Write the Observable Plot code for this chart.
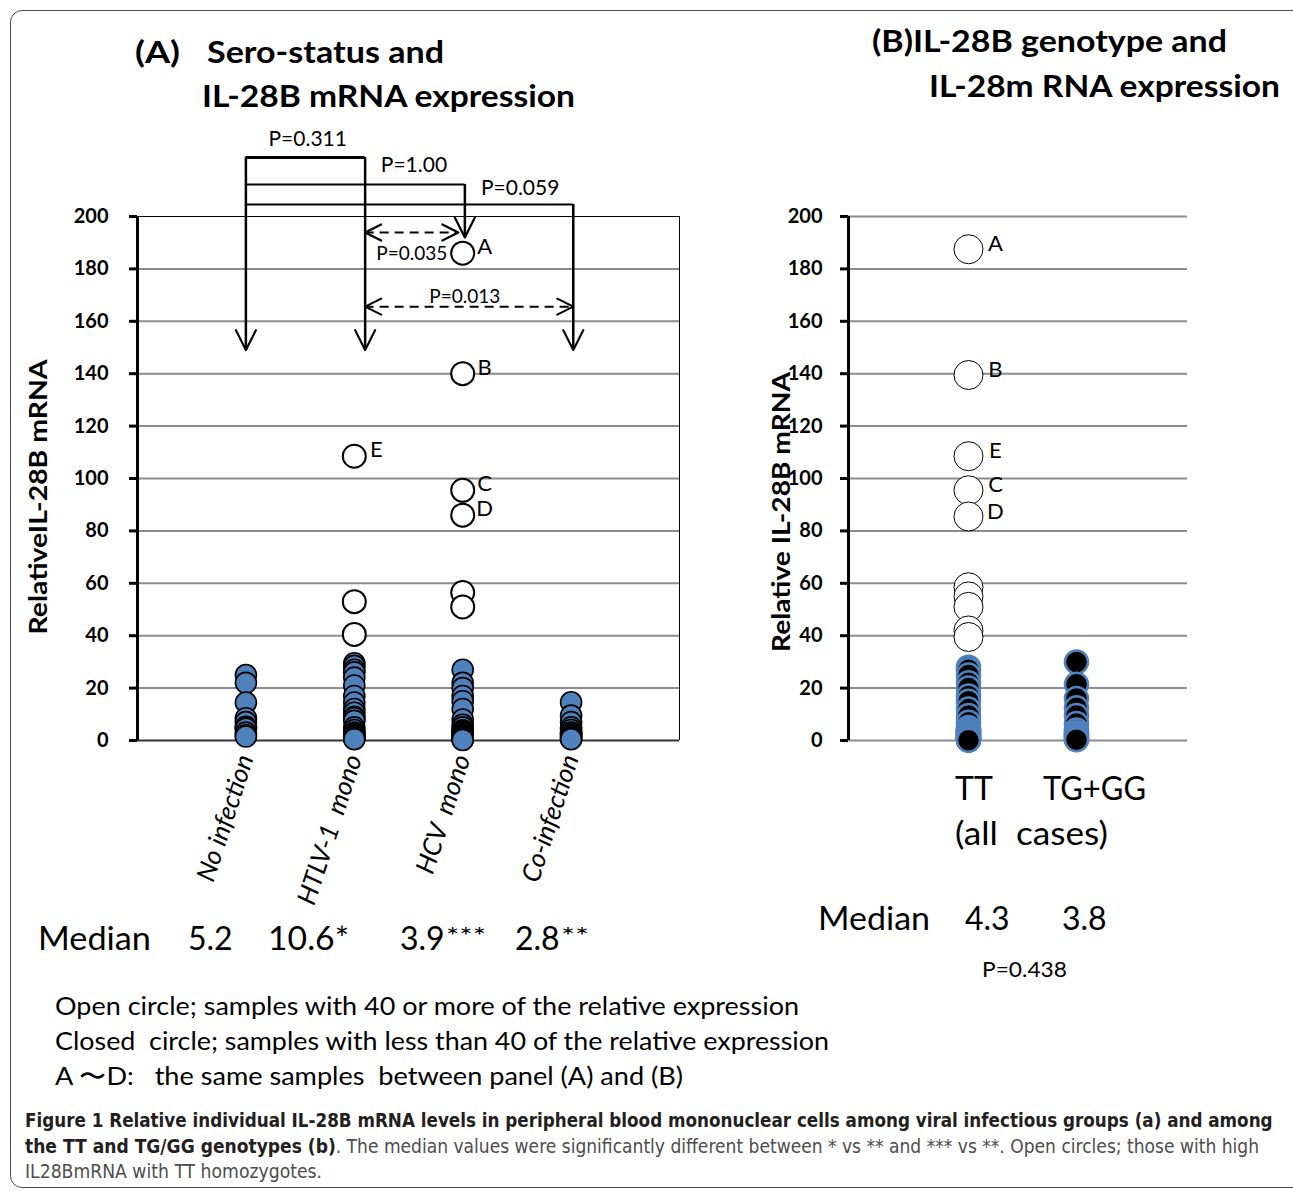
<!DOCTYPE html>
<html><head><meta charset="utf-8">
<script src="https://cdn.jsdelivr.net/npm/d3@7"></script>
<script src="https://cdn.jsdelivr.net/npm/@observablehq/plot@0.6"></script>
<style>
body{margin:0;background:#fff;}
#fig{position:relative;width:1293px;height:1191px;overflow:hidden;background:#fff;}
#border{position:absolute;left:10px;top:10px;width:1300px;height:1178px;border:1.5px solid #4a4a4a;border-radius:12px;box-sizing:border-box;}
</style></head><body><div id="fig"><div id="border"></div></div>
<script>
// ---------- data ----------
const groupsA = ["No infection", "HTLV-1\u00a0 mono", "HCV\u00a0 mono", "Co-infection"];
// closed circles (< 40)
const noInfection = [25, 22, 14.5, 8.5, 7, 5.2, 5, 4.5, 3, 2, 1.5];
const htlv1Mono = [29.5, 28.5, 27, 26, 24, 21, 17, 14.5, 12, 10.6, 9, 8.5, 7.5, 5, 4, 3, 2.5, 2, 1.5, 1, 0.8, 0.5];
const hcvMono = [27, 22, 20, 17, 15, 12, 8, 6, 5, 3.9, 3.5, 3, 2.8, 2.5, 2.2, 2, 1.8, 1.5, 1.2, 1, 0.8, 0.6, 0.4, 0.3, 0.2];
const coInfection = [14.6, 9.5, 7, 5, 4, 3, 2.8, 2.5, 2, 1.5, 1, 0.8, 0.5];
// open circles (>= 40)
const htlv1Open = [108.5, 53, 40.5];
const hcvOpen = [186, 140, 95.5, 86, 56.5, 51];
const sampleLabelsA = [
  {group: 3, value: 186, label: "A"},
  {group: 3, value: 140, label: "B"},
  {group: 3, value: 95.5, label: "C"},
  {group: 3, value: 86, label: "D"},
  {group: 2, value: 108.5, label: "E"}
];
const mediansA = ["5.2", "10.6*", "3.9***", "2.8**"];

const groupsB = ["TT", "TG+GG"];
const ttClosed = [28, 27, 25, 22, 20, 17, 15, 12, 9.5, 7, 5, 4.3, 4, 3.8, 3.5, 3.2, 3, 2.8, 2.5, 2.2, 2, 1.8, 1.5, 1.3, 1.1, 1, 0.8, 0.6, 0.5, 0.4, 0.3, 0.2, 0.1];
const tgggClosed = [30, 21.5, 16, 12.5, 9.5, 6.5, 4, 3.8, 3, 2.5, 2, 1.5, 1, 0.5, 0.3];
const ttOpen = [187.5, 139.5, 108.5, 95.5, 85.5, 58.5, 55, 51, 42, 39.5];
const sampleLabelsB = [
  {group: 1, value: 187.5, label: "A"},
  {group: 1, value: 139.5, label: "B"},
  {group: 1, value: 108.5, label: "E"},
  {group: 1, value: 95.5, label: "C"},
  {group: 1, value: 85.5, label: "D"}
];
const mediansB = ["4.3", "3.8"];

const yTicks = [0, 20, 40, 60, 80, 100, 120, 140, 160, 180, 200];

// comparison annotations, panel A (x = group position, y = relative expression)
const bracketTop = [{x1: 1, x2: 2.1, y: 222.5}];
const bracketLines = [{x1: 1, x2: 3.02, y: 212.2}, {x1: 1, x2: 4.02, y: 204.6}];
const bracketDrops = [
  {x: 1, y1: 222.5, y2: 149}, {x: 2.1, y1: 222.5, y2: 149},
  {x: 3.02, y1: 212.2, y2: 192}, {x: 4.02, y1: 204.6, y2: 149}
];
const dashedPairs = [{x1: 2.1, x2: 2.96, y: 193.9}, {x1: 2.1, x2: 4.02, y: 165.6}];
const pTop = [
  {x: 1.57, y: 229.4, text: "P=0.311"},
  {x: 2.55, y: 219.6, text: "P=1.00"},
  {x: 3.53, y: 210.8, text: "P=0.059"}
];
const pInner = [
  {x: 2.53, y: 185.6, text: "P=0.035"},
  {x: 3.02, y: 169.2, text: "P=0.013"}
];

// ---------- build ----------
const FONT = "Lato, 'Open Sans', sans-serif";
const rowsA = [], openA = [];
[noInfection, htlv1Mono, hcvMono, coInfection].forEach((arr, i) => arr.forEach(v => rowsA.push({x: i + 1, v})));
[[], htlv1Open, hcvOpen, []].forEach((arr, i) => arr.forEach(v => openA.push({x: i + 1, v})));
const rowsB = [], openB = [];
[ttClosed, tgggClosed].forEach((arr, i) => arr.forEach(v => rowsB.push({x: i + 1, v})));
ttOpen.forEach(v => openB.push({x: 1, v}));

const chevron = {draw(context, l) { context.moveTo(-l * 0.5, l); context.lineTo(0, 0); context.lineTo(l * 0.5, l); }};
const headsDown = bracketDrops.map(d => ({x: d.x, y: d.y2}));
const headsLeft = dashedPairs.map(d => ({x: d.x1, y: d.y}));
const headsRight = dashedPairs.map(d => ({x: d.x2, y: d.y}));

const plotA = Plot.plot({
  width: 700, height: 960,
  marginLeft: 137, marginRight: 21, marginTop: 216, marginBottom: 220,
  x: {domain: [0, 5]},
  y: {domain: [0, 200]},
  style: {fontFamily: FONT, fontSize: "20px", overflow: "visible", background: "transparent", color: "#000"},
  marks: [
    Plot.ruleY(yTicks.filter(t => t > 0 && t < 200), {stroke: "#8c8c8c", strokeWidth: 2}),
    Plot.ruleY([200], {stroke: "#000", strokeWidth: 1}),
    Plot.ruleY([0], {stroke: "#333", strokeWidth: 2}),
    Plot.ruleX([5], {stroke: "#000", strokeWidth: 1}),
    Plot.ruleX([0], {stroke: "#000", strokeWidth: 3}),
    Plot.axisY({ticks: yTicks, tickSize: 8, tickPadding: 21, fontSize: 20, fontWeight: "bold", strokeWidth: 3, label: null}),
    Plot.axisX({ticks: [1, 2, 3, 4], tickFormat: d => groupsA[d - 1], tickRotate: -72, tickSize: 0, tickPadding: 15, fontSize: 26, fontStyle: "italic", label: null}),
    Plot.ruleY(bracketTop, {x1: "x1", x2: "x2", y: "y", stroke: "#000", strokeWidth: 3}),
    Plot.ruleY(bracketLines, {x1: "x1", x2: "x2", y: "y", stroke: "#000", strokeWidth: 2}),
    Plot.ruleX(bracketDrops, {x: "x", y1: "y1", y2: "y2", stroke: "#000", strokeWidth: 2.5}),
    Plot.ruleY(dashedPairs, {x1: "x1", x2: "x2", y: "y", stroke: "#000", strokeWidth: 2, strokeDasharray: "9,6"}),
    Plot.vector(headsDown, {x: "x", y: "y", rotate: 180, length: 20, anchor: "start", shape: chevron, strokeWidth: 2.2, stroke: "#000"}),
    Plot.vector(headsLeft, {x: "x", y: "y", rotate: -90, length: 16, anchor: "start", shape: chevron, strokeWidth: 2.2, stroke: "#000"}),
    Plot.vector(headsRight, {x: "x", y: "y", rotate: 90, length: 16, anchor: "start", shape: chevron, strokeWidth: 2.2, stroke: "#000"}),
    Plot.dot(rowsA, {x: "x", y: "v", r: 10.5, fill: "#4f81bd", stroke: "#000", strokeWidth: 1.6}),
    Plot.dot(openA, {x: "x", y: "v", r: 11.5, fill: "#fff", stroke: "#000", strokeWidth: 2}),
    Plot.text(sampleLabelsA, {x: "group", y: "value", text: "label", dx: 22, dy: -6, fontSize: 22, fill: "#000"}),
    Plot.text(pTop, {x: "x", y: "y", text: "text", fontSize: 21, fill: "#000"}),
    Plot.text(pInner, {x: "x", y: "y", text: "text", fontSize: 19, fill: "#000"})
  ]
});
plotA.style.position = "absolute"; plotA.style.left = "0px"; plotA.style.top = "0px";
document.getElementById("fig").appendChild(plotA);

const xDomB = [-0.111, 3.028];
const plotB = Plot.plot({
  width: 593, height: 960,
  marginLeft: 148, marginRight: 106, marginTop: 216, marginBottom: 220,
  x: {domain: xDomB, axis: null},
  y: {domain: [0, 200]},
  style: {fontFamily: FONT, fontSize: "20px", overflow: "visible", background: "transparent", color: "#000"},
  marks: [
    Plot.ruleY(yTicks, {stroke: "#8c8c8c", strokeWidth: 2}),
    Plot.ruleX([xDomB[0]], {stroke: "#000", strokeWidth: 3}),
    Plot.axisY({ticks: yTicks, tickSize: 8, tickPadding: 18, fontSize: 20, fontWeight: "bold", strokeWidth: 3, label: null}),
    Plot.dot(rowsB, {x: "x", y: "v", r: 11.5, fill: "#000", stroke: "#4f81bd", strokeWidth: 2.5}),
    Plot.dot(openB, {x: "x", y: "v", r: 14.5, fill: "#fff", stroke: "#000", strokeWidth: 1}),
    Plot.text(sampleLabelsB, {x: "group", y: "value", text: "label", dx: 27, dy: -5, fontSize: 22, fill: "#000"})
  ]
});
plotB.style.position = "absolute"; plotB.style.left = "700px"; plotB.style.top = "0px";
document.getElementById("fig").appendChild(plotB);

// ---------- text overlay ----------
const ov = d3.select("#fig").append("svg")
  .attr("width", 1293).attr("height", 1191)
  .style("position", "absolute").style("left", "0px").style("top", "0px").style("pointer-events", "none");

const texts = [
  {t: "(A)", x: 135, y: 63, s: 30, b: 1, w: 45},
  {t: "Sero-status and", x: 207, y: 63, s: 30, b: 1, w: 237},
  {t: "IL-28B mRNA expression", x: 202, y: 107, s: 30, b: 1, w: 373},
  {t: "(B)IL-28B genotype and", x: 872, y: 52, s: 30, b: 1, w: 355},
  {t: "IL-28m RNA expression", x: 929, y: 97, s: 30, b: 1, w: 351},
  {t: "RelativeIL-28B mRNA", x: 47, y: 497, s: 25, b: 1, w: 275, rot: 1},
  {t: "Relative IL-28B mRNA", x: 790, y: 512, s: 25, b: 1, w: 280, rot: 1},
  {t: "Median", x: 38, y: 950, s: 32, w: 113},
  {t: mediansA[0], x: 188, y: 950, s: 32, w: 45},
  {t: mediansA[1], x: 268, y: 950, s: 32, w: 81},
  {t: mediansA[2].replace(/\*+/, ""), x: 400, y: 950, s: 32, w: 45},
  {t: mediansA[2].match(/\*+/)[0], x: 446, y: 944, s: 24, w: 40},
  {t: mediansA[3].replace(/\*+/, ""), x: 515, y: 950, s: 32, w: 45},
  {t: mediansA[3].match(/\*+/)[0], x: 561, y: 944, s: 24, w: 28},
  {t: groupsB[0], x: 955, y: 800, s: 32, w: 37},
  {t: groupsB[1], x: 1043, y: 800, s: 32, w: 103},
  {t: "(all  cases)", x: 955, y: 845, s: 32, w: 153},
  {t: "Median", x: 818, y: 930, s: 32, w: 112},
  {t: mediansB[0], x: 965, y: 930, s: 32, w: 45},
  {t: mediansB[1], x: 1062, y: 930, s: 32, w: 45},
  {t: "P=0.438", x: 982, y: 977, s: 22, w: 85},
  {t: "Open circle; samples with 40 or more of the relative expression", x: 55, y: 1015, s: 25, w: 744},
  {t: "Closed  circle; samples with less than 40 of the relative expression", x: 55, y: 1050, s: 25, w: 774},
  {t: "A \u301cD:   the same samples  between panel (A) and (B)", x: 55, y: 1085, s: 25, w: 628}
];
texts.forEach(d => {
  const el = ov.append("text")
    .attr("x", d.x).attr("y", d.y)
    .attr("font-family", FONT).attr("font-size", d.s)
    .attr("font-weight", d.b ? "bold" : "normal")
    .attr("fill", "#000").style("white-space", "pre")
    .text(d.t);
  if (d.rot) el.attr("text-anchor", "middle").attr("transform", `rotate(-90 ${d.x} ${d.y})`);
  if (d.w) {
    const L = el.node().getComputedTextLength();
    if (Math.abs(L - d.w) > 2) el.attr("textLength", d.w).attr("lengthAdjust", "spacingAndGlyphs");
  }
});

// caption: size chosen so that the natural width fits the target width
const CAPFONT = "'Liberation Sans Narrow', 'DejaVu Sans Condensed', 'Roboto', sans-serif";
const captionLines = [
  {y: 1127, w: 1248, parts: [["Figure 1 Relative individual IL-28B mRNA levels in peripheral blood mononuclear cells among viral infectious groups (a) and among", 1]]},
  {y: 1153, w: 1234, parts: [["the TT and TG/GG genotypes (b)", 1], [". The median values were significantly different between * vs ** and *** vs **. Open circles; those with high", 0]]},
  {y: 1178, w: 297, parts: [["IL28BmRNA with TT homozygotes.", 0]]}
];
const capEls = captionLines.map(line => {
  const el = ov.append("text").attr("x", 25).attr("y", line.y)
    .attr("font-family", CAPFONT).attr("font-size", 19).style("font-stretch", "condensed");
  line.parts.forEach(([t, b]) => el.append("tspan")
    .attr("font-weight", b ? "bold" : "normal")
    .attr("fill", b ? "#231f20" : "#4d4d4d").text(t));
  return el;
});
// common font size from the widest line, then exact width per line
let capSize = 19;
capEls.forEach((el, i) => {
  const L = el.node().getComputedTextLength();
  capSize = Math.min(capSize, 19 * captionLines[i].w / L);
});
capEls.forEach((el, i) => {
  el.attr("font-size", capSize);
  const L = el.node().getComputedTextLength();
  if (L < captionLines[i].w - 2) el.attr("textLength", captionLines[i].w).attr("lengthAdjust", "spacingAndGlyphs");
});
</script></body></html>
